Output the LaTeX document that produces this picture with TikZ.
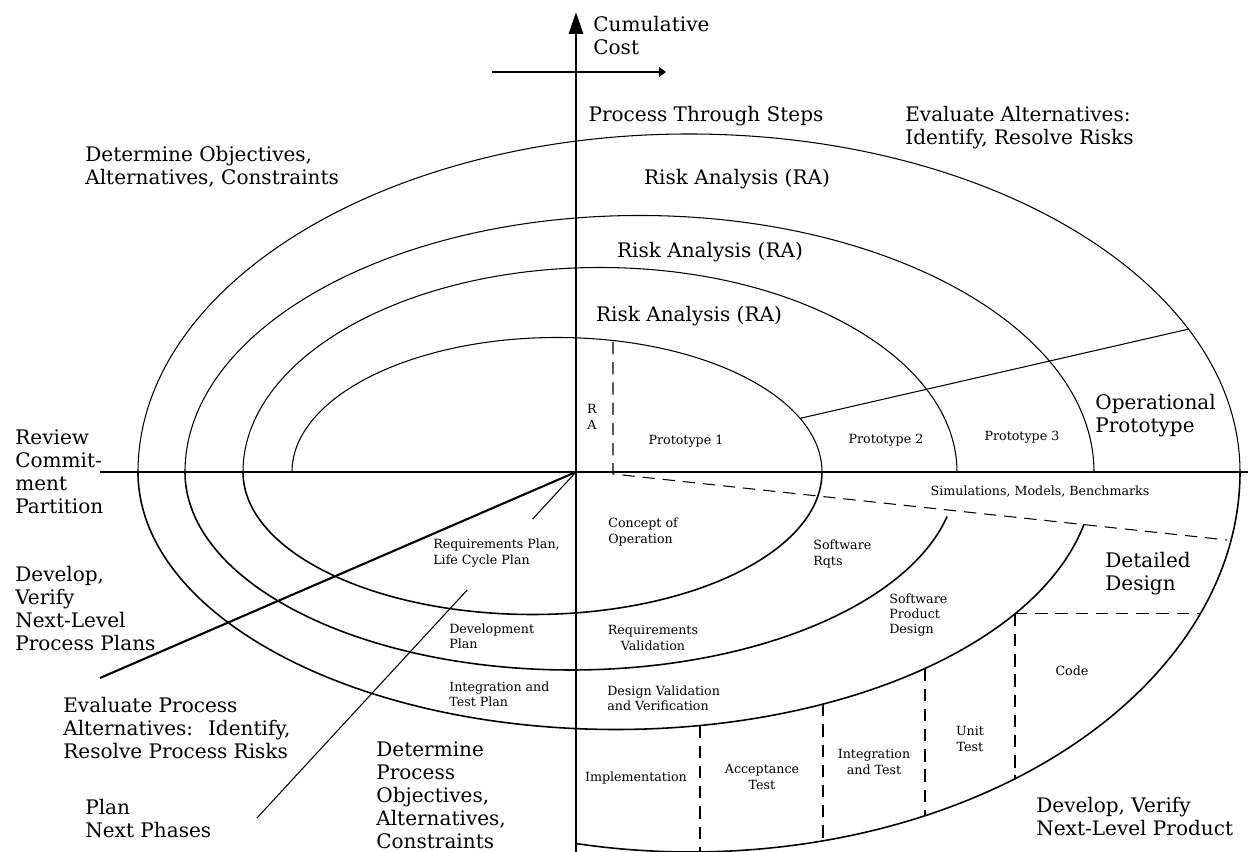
\documentclass[tikz,border=0pt]{standalone}
\usepackage{fontspec}
\setmainfont{DejaVu Serif}
\usetikzlibrary{calc,arrows.meta,positioning}

\begin{document}
\begin{tikzpicture}[
    biglbl/.style={font=\fontsize{11.4}{13.1}\selectfont, inner sep=0pt, align=left},
    smalllbl/.style={font=\fontsize{7.2}{8.7}\selectfont, inner sep=0pt, align=center},
    spiral/.style={line width=0.6pt},
    spirallow/.style={line width=0.9pt},
    phase/.style={line width=0.6pt, dash pattern=on 7pt off 4.5pt},
    declare function={
      lowC(\t)=-5.15*sqrt(1-((\t-0.8)/9.56)^2);
      lowD(\t)=-7.6*sqrt(1-((\t-2.3)/10.98)^2);
      rightD(\t)=2.3+10.98*sqrt(1-(\t/7.6)^2);
    }]
  \useasboundingbox (-11.52,-7.6) rectangle (13.44,9.44);
  \coordinate (O) at (0,0);

  % axes
  \draw[spiral] (-9.52,0) -- (13.44,0);
  \draw[line width=1.7pt, -{Triangle[length=0.44cm,width=0.28cm]}] (0,-7.6) -- (0,9.2);
  \draw[spiral, -{Triangle[length=0.14cm,width=0.2cm]}] (-1.68,8.0) -- (1.8,8.0);

  % spiral: upper half ellipses
  \foreach \l/\a/\b in {-5.68/5.30/2.69, -6.66/7.14/4.09, -7.82/9.09/5.13, -8.76/11.02/6.76}
    \draw[spiral] (\l,0) arc[start angle=180, end angle=0, x radius=\a, y radius=\b];
  % spiral: lower half ellipses
  \draw[spirallow] (-6.66,0) arc[start angle=180, end angle=360, x radius=5.79, y radius=2.85];
  \draw[spirallow] (-7.82,0) arc[start angle=180, end angle=347, x radius=7.72, y radius=3.96];
  \draw[spirallow] (-8.76,0) arc[start angle=180, end angle=348.3, x radius=9.56, y radius=5.15];
  \draw[spirallow] (13.28,0) arc[start angle=0, end angle=-102.1, x radius=10.98, y radius=7.6];

  % prototype partition
  \coordinate (p1) at ({-0.38+5.30*cos(23.5)},{2.69*sin(23.5)});
  \coordinate (p4) at ({2.26+11.02*cos(25)},{6.76*sin(25)});
  \draw[spiral] (p1) -- (p4);

  % risk analysis / simulations boundary
  \coordinate (ratop) at (0.74,2.6);
  \coordinate (racorner) at (0.74,-0.04);
  \coordinate (simend) at (13.02,-1.36);
  \draw[phase] (ratop) -- (racorner) -- (simend);

  % development steps
  \foreach \x in {2.48,4.94,6.98,8.78}
    \draw[phase] (\x,{lowC(\x)}) -- (\x,{lowD(\x)});
  \draw[phase] (8.78,{lowC(8.78)}) -- ({rightD(lowC(8.78))},{lowC(8.78)});

  % process plan lines
  \coordinate (dv) at (-9.52,-4.12);
  \coordinate (pn) at (-6.38,-6.92);
  \draw[line width=1.2pt] (O) -- (dv);
  \draw[spiral] (O) -- ($(O)!0.136!(pn)$);
  \draw[spiral] ($(O)!0.341!(pn)$) -- (pn);

  % quadrant labels
  \node[biglbl, anchor=west] (cost) at (0.34,8.72) {Cumulative\\Cost};
  \node[biglbl] (steps) at (2.6,7.12) {Process Through Steps};
  \node[biglbl, anchor=west] (evalalt) at (6.58,6.88) {Evaluate Alternatives:\\Identify, Resolve Risks};
  \node[biglbl, anchor=west] (detobj) at (-9.82,6.1) {Determine Objectives,\\Alternatives, Constraints};
  \node[biglbl] (ra1) at (3.22,5.86) {Risk Analysis (RA)};
  \node[biglbl] (ra2) at (2.68,4.4) {Risk Analysis (RA)};
  \node[biglbl] (ra3) at (2.26,3.12) {Risk Analysis (RA)};
  \node[biglbl, anchor=west] (oppro) at (10.38,1.12) {Operational\\Prototype};
  \node[biglbl, anchor=west] (review) at (-11.22,0) {Review\\Commit-\\ment\\Partition};
  \node[biglbl, anchor=west] (devplans) at (-11.22,-2.74) {Develop,\\Verify\\Next-Level\\Process Plans};
  \node[biglbl, anchor=west] (evalproc) at (-10.26,-5.12) {Evaluate Process\\Alternatives:~ Identify,\\Resolve Process Risks};
  \node[biglbl, anchor=west] (plannext) at (-9.82,-6.94) {Plan\\Next Phases};
  \node[biglbl, anchor=west] (detproc) at (-4.0,-6.46) {Determine\\Process\\Objectives,\\Alternatives,\\Constraints};
  \node[biglbl, anchor=west] (detdes) at (10.58,-2.04) {Detailed\\Design};
  \node[biglbl, anchor=west] (devprod) at (9.2,-6.9) {Develop, Verify\\Next-Level Product};

  % phase labels
  \node[smalllbl] (ra) at (0.32,1.1) {R\\A};
  \node[smalllbl] (proto1) at (2.2,0.62) {Prototype 1};
  \node[smalllbl] (proto2) at (6.2,0.64) {Prototype 2};
  \node[smalllbl] (proto3) at (8.92,0.7) {Prototype 3};
  \node[smalllbl] (sims) at (9.28,-0.4) {Simulations, Models, Benchmarks};
  \node[smalllbl, align=left, anchor=west] (concept) at (0.64,-1.2) {Concept of\\Operation};
  \node[smalllbl, align=left, anchor=west] (reqplan) at (-2.86,-1.62) {Requirements Plan,\\Life Cycle Plan};
  \node[smalllbl, align=left, anchor=west] (swrqts) at (4.74,-1.64) {Software\\Rqts};
  \node[smalllbl, align=left, anchor=west] (swprod) at (6.26,-2.86) {Software\\Product\\Design};
  \node[smalllbl, align=left, anchor=west] (devplan) at (-2.54,-3.28) {Development\\Plan};
  \node[smalllbl] (reqval) at (1.54,-3.32) {Requirements\\Validation};
  \node[smalllbl, align=left, anchor=west] (itplan) at (-2.54,-4.44) {Integration and\\Test Plan};
  \node[smalllbl, align=left, anchor=west] (desval) at (0.62,-4.52) {Design Validation\\and Verification};
  \node[smalllbl] (impl) at (1.2,-6.12) {Implementation};
  \node[smalllbl] (acctest) at (3.72,-6.1) {Acceptance\\Test};
  \node[smalllbl] (inttest) at (5.96,-5.8) {Integration\\and Test};
  \node[smalllbl] (unittest) at (7.88,-5.34) {Unit\\Test};
  \node[smalllbl] (code) at (9.92,-3.98) {Code};
\end{tikzpicture}
\end{document}
